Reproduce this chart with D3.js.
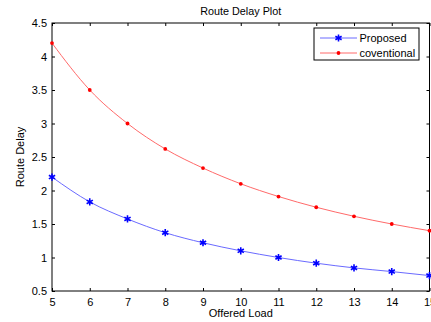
<!DOCTYPE html>
<html>
<head>
<meta charset="utf-8">
<script src="https://cdn.jsdelivr.net/npm/d3@7"></script>
<style>
  body { margin: 0; background: #fff; }
  svg { display: block; font-family: "Liberation Sans", Arial, sans-serif; }
</style>
</head>
<body>
<svg id="chart" width="431" height="322"></svg>
<script>
const load = [5, 6, 7, 8, 9, 10, 11, 12, 13, 14, 15];
const proposed = [2.2, 1.83, 1.575, 1.37, 1.22, 1.1, 1.0, 0.915, 0.845, 0.79, 0.73];
const conventional = [4.2, 3.5, 3.0, 2.62, 2.335, 2.1, 1.91, 1.75, 1.615, 1.5, 1.4];
const yTicks = [0.5, 1, 1.5, 2, 2.5, 3, 3.5, 4, 4.5];
const seriesNames = ['Proposed', 'coventional'];

const margin = { top: 23, right: 1.5, bottom: 31, left: 52 };
const W = 431, H = 322;
const width = W - margin.left - margin.right;
const height = H - margin.top - margin.bottom;

const svg = d3.select('#chart');
const g = svg.append('g').attr('transform', `translate(${margin.left},${margin.top})`);

const x = d3.scaleLinear().domain([5, 15]).range([0, width]);
const y = d3.scaleLinear().domain([0.5, 4.5]).range([height, 0]);

// axes with inward ticks on all four sides (matlab style box)
const styleAxis = (sel) => {
    sel.select('.domain').remove();
    sel.selectAll('line').attr('stroke', '#000');
    sel.selectAll('text').attr('fill', '#000').attr('font-size', '11px')
        .attr('font-family', '"Liberation Sans", Arial, sans-serif');
};
g.append('g').attr('transform', `translate(0,${height})`)
    .call(d3.axisBottom(x).tickValues(load).tickSize(-3).tickPadding(7).tickFormat(d3.format('d')))
    .call(styleAxis);
g.append('g')
    .call(d3.axisTop(x).tickValues(load).tickSize(-3).tickFormat(''))
    .call(styleAxis);
g.append('g')
    .call(d3.axisLeft(y).tickValues(yTicks).tickSize(-3).tickPadding(5).tickFormat((d) => d))
    .call(styleAxis);
g.append('g').attr('transform', `translate(${width},0)`)
    .call(d3.axisRight(y).tickValues(yTicks).tickSize(-3).tickFormat(''))
    .call(styleAxis);

g.append('rect')
    .attr('width', width).attr('height', height)
    .attr('fill', 'none').attr('stroke', '#000').attr('stroke-width', 1);

// lines
const line = d3.line()
    .x((d, i) => x(load[i]))
    .y((d) => y(d))
    .curve(d3.curveMonotoneX);

g.append('path').attr('d', line(conventional))
    .attr('fill', 'none').attr('stroke', '#ff6a6a').attr('stroke-width', 1);
g.append('path').attr('d', line(proposed))
    .attr('fill', 'none').attr('stroke', '#6a6aff').attr('stroke-width', 1);

const star = d3.symbol().type(d3.symbolAsterisk).size(36);
g.selectAll('.pm').data(proposed).join('path')
    .attr('class', 'pm')
    .attr('d', star)
    .attr('transform', (d, i) => `translate(${x(load[i])},${y(d)})`)
    .attr('fill', 'none').attr('stroke', '#0000ff').attr('stroke-width', 1.6);
g.selectAll('.cm').data(conventional).join('circle')
    .attr('class', 'cm')
    .attr('cx', (d, i) => x(load[i])).attr('cy', (d) => y(d))
    .attr('r', 1.9).attr('fill', '#ff0000');

// title and labels
svg.append('text').attr('x', margin.left + width / 2).attr('y', 15)
    .attr('text-anchor', 'middle').attr('font-size', '10.8px').text('Route Delay Plot');
svg.append('text').attr('x', margin.left + width / 2).attr('y', 317)
    .attr('text-anchor', 'middle').attr('font-size', '11px').text('Offered Load');
svg.append('text').attr('transform', `translate(23.5,${margin.top + height / 2}) rotate(-90)`)
    .attr('text-anchor', 'middle').attr('font-size', '11px').text('Route Delay');

// legend
const legend = svg.append('g').attr('transform', 'translate(314,28)');
legend.append('rect').attr('width', 105).attr('height', 32)
    .attr('fill', '#fff').attr('stroke', '#000').attr('stroke-width', 1);
const colors = ['#6a6aff', '#ff6a6a'];
const markColors = ['#0000ff', '#ff0000'];
seriesNames.forEach((name, i) => {
    const ly = 10 + i * 15;
    legend.append('line').attr('x1', 6).attr('x2', 43).attr('y1', ly).attr('y2', ly)
        .attr('stroke', colors[i]).attr('stroke-width', 1);
    if (i === 0) {
        legend.append('path').attr('d', star).attr('transform', `translate(24.5,${ly})`)
            .attr('fill', 'none').attr('stroke', markColors[i]).attr('stroke-width', 1.6);
    } else {
        legend.append('circle').attr('cx', 24.5).attr('cy', ly).attr('r', 1.9).attr('fill', markColors[i]);
    }
    legend.append('text').attr('x', 45.5).attr('y', ly + 4).attr('font-size', '11px').text(name);
});
</script>
</body>
</html>
